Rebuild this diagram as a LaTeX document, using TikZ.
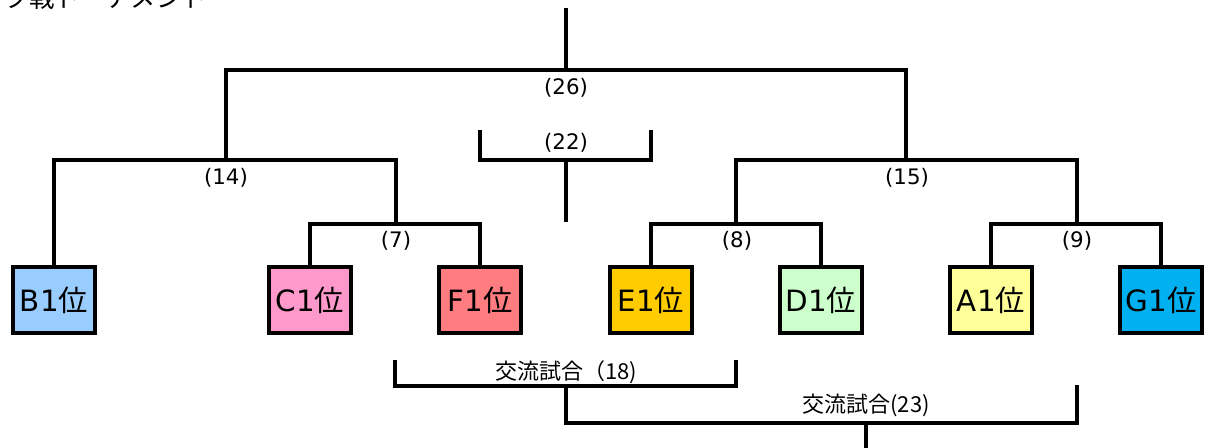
\documentclass[tikz,border=0pt]{standalone}
\usepackage{fontspec}
\setmainfont{DejaVu Sans}
\newfontfamily\jpfont{Noto Sans CJK JP}

\definecolor{bblue}{HTML}{99CCFF}
\definecolor{cpink}{HTML}{FF99CC}
\definecolor{fred}{HTML}{FF7C80}
\definecolor{egold}{HTML}{FFCC00}
\definecolor{dgreen}{HTML}{CCFFCC}
\definecolor{ayellow}{HTML}{FFFF99}
\definecolor{gcyan}{HTML}{00B0F0}

\begin{document}
\begin{tikzpicture}[x=0.75pt,y=-0.75pt,
    team/.style={draw,line width=3pt,minimum width=61.5pt,minimum height=49.5pt,inner sep=0pt,font=\fontsize{22pt}{26pt}\selectfont},
    link/.style={draw,line width=3pt},
    num/.style={inner sep=0pt,font=\fontsize{16pt}{19pt}\selectfont},
    match/.style={inner sep=0pt,font=\jpfont\fontsize{16.5pt}{19pt}\selectfont},
    heading/.style={inner sep=0pt,font=\jpfont\fontsize{19pt}{22pt}\selectfont}]

    \useasboundingbox (0,0) rectangle (1209,448);
    \begin{scope}
      \clip (0,0) rectangle (1209,448);
      \node[heading,anchor=base east] (title) at (207,8) {ブロック戦トーナメント};
    \end{scope}

    \node[team,fill=bblue] (B1) at (54,300) {B1{\jpfont 位}};
    \node[team,fill=cpink] (C1) at (310,300) {C1{\jpfont 位}};
    \node[team,fill=fred] (F1) at (480,300) {F1{\jpfont 位}};
    \node[team,fill=egold] (E1) at (651,300) {E1{\jpfont 位}};
    \node[team,fill=dgreen] (D1) at (821,300) {D1{\jpfont 位}};
    \node[team,fill=ayellow] (A1) at (991,300) {A1{\jpfont 位}};
    \node[team,fill=gcyan] (G1) at (1161,300) {G1{\jpfont 位}};

    \coordinate (top) at (566,8);
    \coordinate (j26) at (566,70);
    \coordinate (j14) at (226,160);
    \coordinate (j15) at (906,160);
    \coordinate (j7) at (396,224);
    \coordinate (j8) at (736,224);
    \coordinate (j9) at (1077,224);
    \coordinate (l22) at (480,130);
    \coordinate (j22) at (566,160);
    \coordinate (r22) at (651,130);
    \coordinate (e22) at (566,222);
    \coordinate (l18) at (395,360);
    \coordinate (j18) at (566,386);
    \coordinate (r18) at (736,360);
    \coordinate (j23) at (866,423);
    \coordinate (r23) at (1077,385);
    \coordinate (bot) at (866,452);

    \node[num] (n26) at (566,88) {(26)};
    \node[num] (n22) at (566,143) {(22)};
    \node[num] (n14) at (226,178) {(14)};
    \node[num] (n15) at (907,178) {(15)};
    \node[num] (n7) at (396,241) {(7)};
    \node[num] (n8) at (737,241) {(8)};
    \node[num] (n9) at (1077,241) {(9)};
    \node[match] (n18) at (566,372) {交流試合（18)};
    \node[match] (n23) at (866,405) {交流試合(23)};

    \path[link] (C1) |- (j7) -| (F1);
    \path[link] (E1) |- (j8) -| (D1);
    \path[link] (A1) |- (j9) -| (G1);
    \path[link] (B1) |- (j14) -| (j7);
    \path[link] (j8) |- (j15) -| (j9);
    \path[link] (j14) |- (j26) -| (j15);
    \path[link] (j26) -- (top);
    \path[link] (l22) |- (j22) -| (r22);
    \path[link] (j22) -- (e22);
    \path[link] (l18) |- (j18) -| (r18);
    \path[link] (j18) |- (j23) -| (r23);
    \path[link] (j23) -- (bot);
  \end{tikzpicture}
\end{document}
